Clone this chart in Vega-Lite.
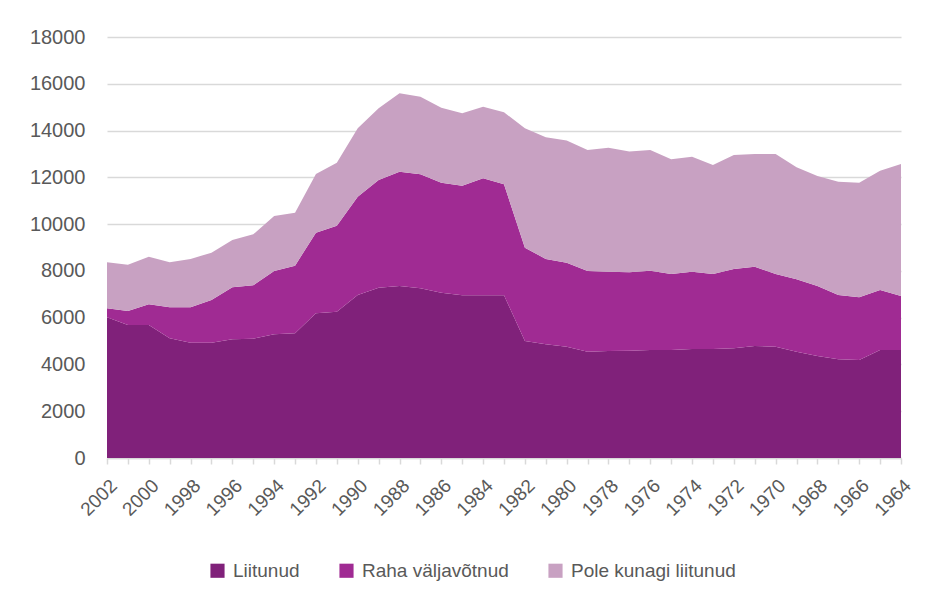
{
  "$schema": "https://vega.github.io/schema/vega-lite/v6.json",
  "autosize": {"type": "none"},
  "width": 794,
  "height": 421,
  "padding": {"left": 107, "top": 37, "right": 37, "bottom": 146},
  "background": "white",
  "config": {
    "view": {"stroke": null},
    "font": "Liberation Sans"
  },
  "data": {
    "values": [
      {"year": 2002, "L": 6016, "R": 384, "P": 1968},
      {"year": 2001, "L": 5687, "R": 599, "P": 1981},
      {"year": 2000, "L": 5687, "R": 884, "P": 2038},
      {"year": 1999, "L": 5117, "R": 1326, "P": 1925},
      {"year": 1998, "L": 4931, "R": 1512, "P": 2066},
      {"year": 1997, "L": 4931, "R": 1825, "P": 2024},
      {"year": 1996, "L": 5074, "R": 2224, "P": 2024},
      {"year": 1995, "L": 5102, "R": 2281, "P": 2181},
      {"year": 1994, "L": 5288, "R": 2708, "P": 2352},
      {"year": 1993, "L": 5330, "R": 2895, "P": 2265},
      {"year": 1992, "L": 6186, "R": 3449, "P": 2509},
      {"year": 1991, "L": 6257, "R": 3677, "P": 2694},
      {"year": 1990, "L": 6970, "R": 4205, "P": 2922},
      {"year": 1989, "L": 7284, "R": 4603, "P": 3065},
      {"year": 1988, "L": 7355, "R": 4888, "P": 3350},
      {"year": 1987, "L": 7255, "R": 4875, "P": 3320},
      {"year": 1986, "L": 7070, "R": 4703, "P": 3207},
      {"year": 1985, "L": 6955, "R": 4690, "P": 3093},
      {"year": 1984, "L": 6955, "R": 5003, "P": 3065},
      {"year": 1983, "L": 6955, "R": 4747, "P": 3078},
      {"year": 1982, "L": 5003, "R": 3991, "P": 5103},
      {"year": 1981, "L": 4860, "R": 3649, "P": 5203},
      {"year": 1980, "L": 4760, "R": 3593, "P": 5217},
      {"year": 1979, "L": 4546, "R": 3450, "P": 5174},
      {"year": 1978, "L": 4575, "R": 3393, "P": 5302},
      {"year": 1977, "L": 4589, "R": 3350, "P": 5161},
      {"year": 1976, "L": 4618, "R": 3392, "P": 5160},
      {"year": 1975, "L": 4618, "R": 3250, "P": 4903},
      {"year": 1974, "L": 4661, "R": 3307, "P": 4917},
      {"year": 1973, "L": 4661, "R": 3207, "P": 4661},
      {"year": 1972, "L": 4689, "R": 3393, "P": 4874},
      {"year": 1971, "L": 4789, "R": 3393, "P": 4817},
      {"year": 1970, "L": 4760, "R": 3108, "P": 5132},
      {"year": 1969, "L": 4546, "R": 3094, "P": 4789},
      {"year": 1968, "L": 4361, "R": 2994, "P": 4703},
      {"year": 1967, "L": 4219, "R": 2751, "P": 4846},
      {"year": 1966, "L": 4190, "R": 2681, "P": 4902},
      {"year": 1965, "L": 4618, "R": 2566, "P": 5102},
      {"year": 1964, "L": 4618, "R": 2309, "P": 5644}
    ]
  },
  "transform": [
    {"fold": ["L", "R", "P"], "as": ["k", "value"]},
    {
      "lookup": "k",
      "from": {
        "data": {
          "values": [
            {"k": "L", "name": "Liitunud", "rank": 1},
            {"k": "R", "name": "Raha väljavõtnud", "rank": 2},
            {"k": "P", "name": "Pole kunagi liitunud", "rank": 3}
          ]
        },
        "key": "k",
        "fields": ["name", "rank"]
      }
    }
  ],
  "mark": {"type": "area", "interpolate": "linear"},
  "encoding": {
    "x": {
      "field": "year",
      "type": "ordinal",
      "sort": "descending",
      "scale": {"type": "point", "padding": 0},
      "axis": {
        "title": null,
        "labelAngle": -45,
        "labelExpr": "datum.value % 2 == 0 ? datum.label : ''",
        "labelFontSize": 19,
        "labelColor": "#595959",
        "labelPadding": 12,
        "tickSize": 6,
        "tickColor": "#d9d9d9",
        "tickWidth": 1.5,
        "domainColor": "#d9d9d9",
        "domainWidth": 1.5,
        "grid": false
      }
    },
    "y": {
      "field": "value",
      "type": "quantitative",
      "stack": "zero",
      "scale": {"domain": [0, 18000], "nice": false},
      "axis": {
        "title": null,
        "values": [0, 2000, 4000, 6000, 8000, 10000, 12000, 14000, 16000, 18000],
        "format": "d",
        "labelFontSize": 20,
        "labelColor": "#595959",
        "labelPadding": 22,
        "ticks": false,
        "domain": false,
        "grid": true,
        "gridColor": "#d9d9d9",
        "gridWidth": 1.5
      }
    },
    "color": {
      "field": "name",
      "type": "nominal",
      "scale": {
        "domain": ["Liitunud", "Raha väljavõtnud", "Pole kunagi liitunud"],
        "range": ["#80217a", "#a02b93", "#c8a1c2"]
      },
      "legend": {
        "title": null,
        "orient": "none",
        "direction": "horizontal",
        "legendX": 101,
        "legendY": 524,
        "symbolType": "square",
        "symbolSize": 200,
        "symbolStrokeWidth": 0,
        "labelFontSize": 19,
        "labelColor": "#595959",
        "labelOffset": 6,
        "labelLimit": 400,
        "columnPadding": 37
      }
    },
    "order": {"field": "rank", "type": "quantitative", "sort": "ascending"}
  }
}
